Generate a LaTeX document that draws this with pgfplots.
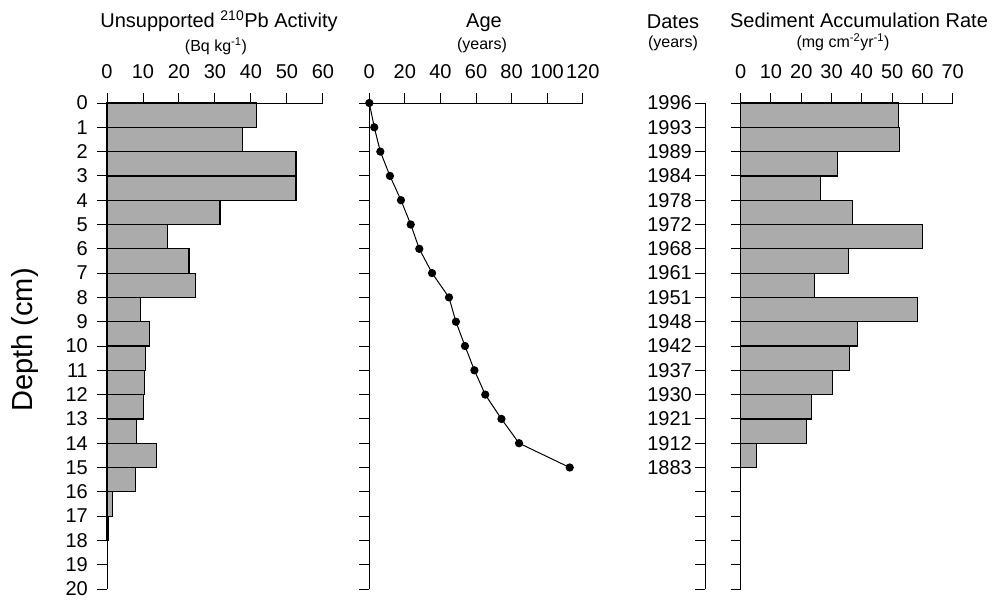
\documentclass[border=0pt]{standalone}
\usepackage{pgfplots}
\pgfplotsset{compat=1.18}
\usepackage{fontspec}
\setmainfont{Liberation Sans}
\begin{document}
\begin{tikzpicture}[x=1pt,y=1pt]
\path[use as bounding box] (0,0) rectangle (992,600);
\pgfplotsset{
  panel/.style={
    scale only axis, height=486pt,
    ymin=0, ymax=20, y dir=reverse,
    axis x line*=top, axis y line*=left,
    axis line style={-, line width=1pt},
    tick align=outside, major tick length=10pt,
    every tick/.style={black, line width=1pt},
    ytick={0,...,20},
    tick label style={font=\fontsize{20}{24}\selectfont},
    xticklabel style={yshift=11pt},
    yticklabel style={inner sep=1pt, xshift=-2pt},
    /pgf/number format/assume math mode=true,
    clip=false,
  },
  barstyle/.style={xbar interval, draw=black, line width=1.2pt, fill=black!33},
}
% Unsupported 210Pb activity
\begin{axis}[panel, at={(107pt,11pt)}, anchor=south west, width=216pt,
  xmin=0, xmax=60, xtick={0,10,...,60}, yticklabel style={xshift=-6pt}]
\addplot[barstyle] coordinates {(41.6,0)(37.7,1)(52.5,2)(52.5,3)(31.4,4)(16.8,5)(22.8,6)(24.6,7)(9.2,8)(11.8,9)(10.7,10)(10.4,11)(10.1,12)(8.2,13)(13.8,14)(8.0,15)(1.6,16)(0.5,17)(0,18)};
\end{axis}
% Age
\begin{axis}[panel, at={(369.3pt,11pt)}, anchor=south west, width=213.4pt,
  xmin=0, xmax=120, xtick={0,20,...,120}, yticklabels={}]
\addplot[black, line width=1pt, mark=*, mark size=3.6pt] coordinates {(0,0)(2.8,1)(6.2,2)(11.6,3)(17.8,4)(23.3,5)(28.1,6)(35.3,7)(44.8,8)(48.7,9)(53.8,10)(59.1,11)(65.2,12)(74.3,13)(84.2,14)(112.7,15)};
\end{axis}
% Dates axis
\begin{axis}[panel, at={(705pt,11pt)}, anchor=south west, width=10pt,
  xmin=0, xmax=1, axis x line=none,
  yticklabels={1996,1993,1989,1984,1978,1972,1968,1961,1951,1948,1942,1937,1930,1921,1912,1883,{},{},{},{},{}}]
\addplot[draw=none] coordinates {(0,0)(0,20)};
\end{axis}
% Sediment accumulation rate
\begin{axis}[panel, at={(740.7pt,11pt)}, anchor=south west, width=212pt,
  xmin=0, xmax=70, xtick={0,10,...,70}, yticklabels={}]
\addplot[barstyle] coordinates {(52.1,0)(52.3,1)(32,2)(26.4,3)(37,4)(60,5)(35.7,6)(24.4,7)(58.3,8)(38.5,9)(35.8,10)(30.4,11)(23.4,12)(21.6,13)(5.3,14)(0,15)};
\end{axis}
% titles
\node[anchor=base, font=\fontsize{20}{24}\selectfont] at (219,572) {Unsupported \textsuperscript{210}Pb Activity};
\node[anchor=base, font=\fontsize{16}{18}\selectfont] at (216,548) {(Bq kg\textsuperscript{-1})};
\node[anchor=base, font=\fontsize{20}{24}\selectfont] at (484,572) {Age};
\node[anchor=base, font=\fontsize{16}{18}\selectfont] at (482,550) {(years)};
\node[anchor=base, font=\fontsize{20}{24}\selectfont] at (673,571) {Dates};
\node[anchor=base, font=\fontsize{16}{18}\selectfont] at (673,552) {(years)};
\node[anchor=base, font=\fontsize{20}{24}\selectfont] at (859,572) {Sediment Accumulation Rate};
\node[anchor=base, font=\fontsize{16}{18}\selectfont] at (843,552) {(mg cm\textsuperscript{-2}yr\textsuperscript{-1})};
\node[rotate=90, font=\fontsize{29}{33}\selectfont] at (25,260) {Depth (cm)};
\end{tikzpicture}
\end{document}
